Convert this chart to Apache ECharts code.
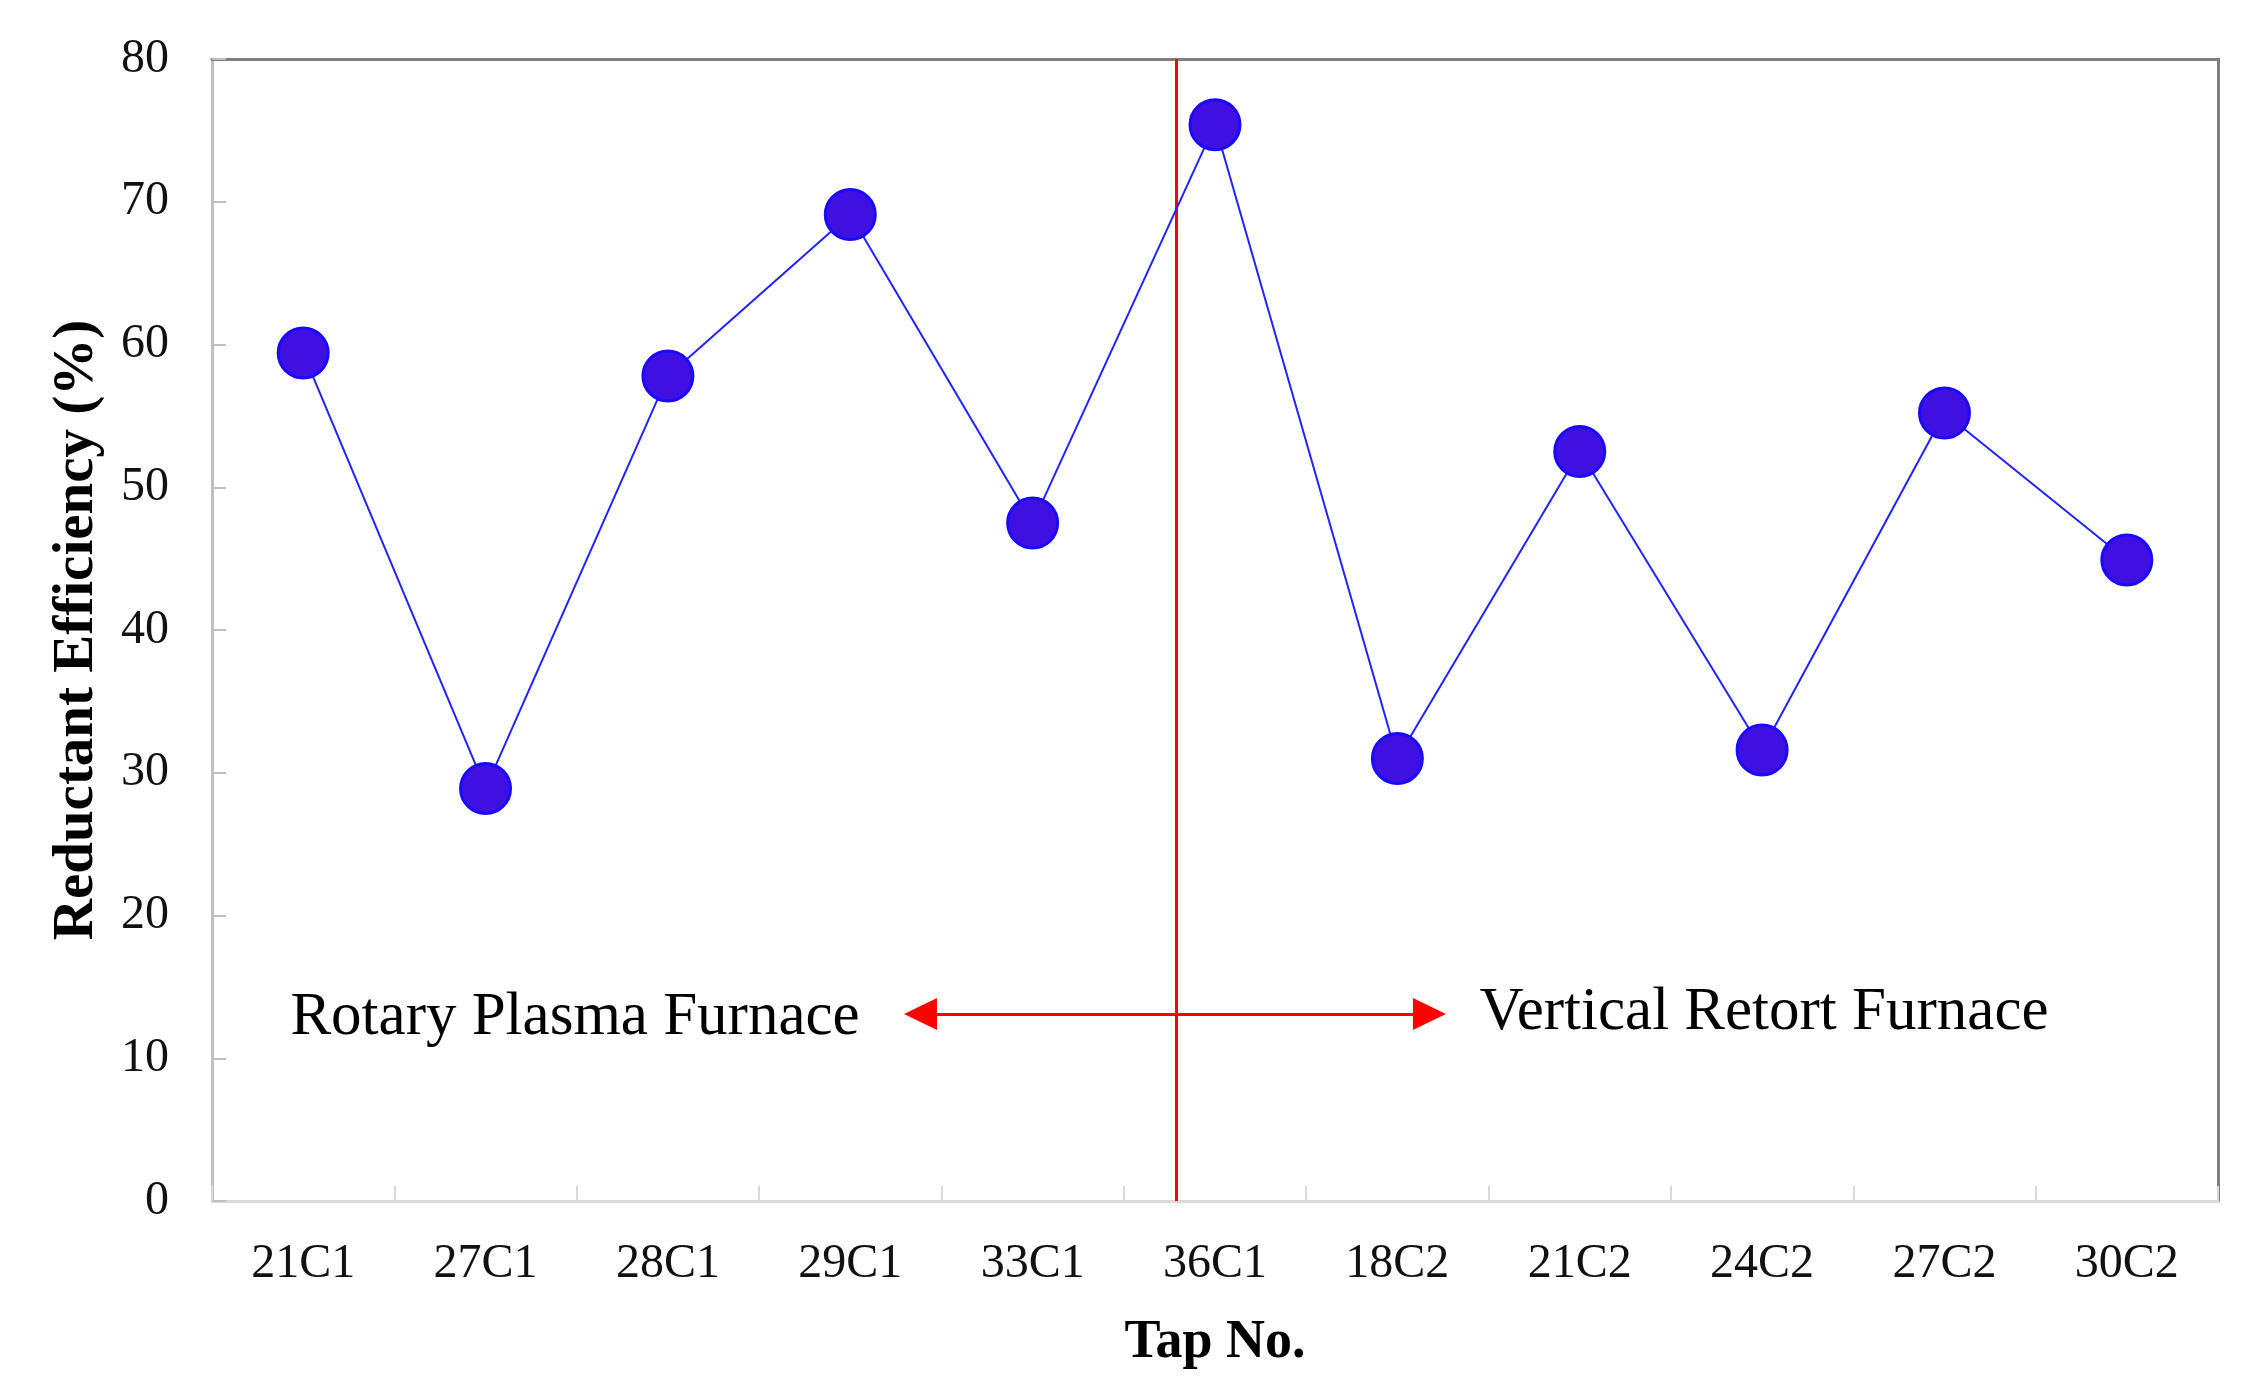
<!DOCTYPE html>
<html>
<head>
<meta charset="utf-8">
<script src="https://cdn.jsdelivr.net/npm/echarts@6/dist/echarts.min.js"></script>
<style>
    html, body { margin: 0; padding: 0; background: #ffffff; }
    #main { width: 2248px; height: 1397px; }
</style>
</head>
<body>
<div id="main"></div>
<script>
// data
const tapNos = ['21C1', '27C1', '28C1', '29C1', '33C1', '36C1', '18C2', '21C2', '24C2', '27C2', '30C2'];
const efficiency = [59.4, 28.9, 57.8, 69.1, 47.5, 75.4, 31.0, 52.5, 31.6, 55.2, 44.9];
const yMin = 0;
const yMax = 80;
const yStep = 10;

// furnace split and annotation (in category units: 0 = left edge, 11 = right edge)
const splitAt = 5.286;
const arrowFrom = 3.885;
const arrowTo = 6.676;
const arrowLevel = 13.1;
const furnaceNotes = [
    { name: 'Rotary Plasma Furnace', value: [0.43, 12.8] },
    { name: 'Vertical Retort Furnace', value: [6.95, 13.15] }
];

const serif = 'Liberation Serif, Times New Roman, serif';
let myChart = echarts.init(document.getElementById('main'));

let option = {
    backgroundColor: '#ffffff',
    animation: false,
    grid: {
        left: 212,
        right: 30,
        top: 59,
        bottom: 196,
        containLabel: false
    },
    xAxis: [
        {
            type: 'category',
            data: tapNos,
            boundaryGap: true,
            name: 'Tap No.',
            nameLocation: 'middle',
            nameGap: 115,
            nameTextStyle: {
                fontFamily: serif,
                fontSize: 54,
                fontWeight: 'bold',
                color: '#000000'
            },
            axisLine: { show: true, lineStyle: { color: '#d9d9d9', width: 3 } },
            axisTick: { show: true, inside: true, length: 15, lineStyle: { color: '#d9d9d9', width: 2 } },
            axisLabel: {
                margin: 39,
                fontFamily: serif,
                fontSize: 48,
                color: '#111111',
                interval: 0
            },
            splitLine: { show: false }
        },
        {
            // hidden helper axis for the divider/arrow, also draws the top frame
            type: 'value',
            position: 'top',
            min: 0,
            max: 11,
            axisLine: { show: true, onZero: false, lineStyle: { color: '#808080', width: 3 } },
            axisTick: { show: false },
            axisLabel: { show: false },
            splitLine: { show: false }
        }
    ],
    yAxis: [
        {
            type: 'value',
            min: yMin,
            max: yMax,
            interval: yStep,
            name: 'Reductant Efficiency (%)',
            nameLocation: 'middle',
            nameGap: 106,
            nameTextStyle: {
                fontFamily: serif,
                fontSize: 57,
                fontWeight: 'bold',
                color: '#000000'
            },
            axisLine: { show: true, lineStyle: { color: '#bfbfbf', width: 3 } },
            axisTick: { show: true, inside: true, length: 14, lineStyle: { color: '#bfbfbf', width: 2 } },
            axisLabel: {
                margin: 43,
                fontFamily: serif,
                fontSize: 48,
                color: '#111111'
            },
            splitLine: { show: false }
        },
        {
            // right frame
            type: 'value',
            position: 'right',
            min: yMin,
            max: yMax,
            axisLine: { show: true, lineStyle: { color: '#808080', width: 3 } },
            axisTick: { show: false },
            axisLabel: { show: false },
            splitLine: { show: false }
        }
    ],
    series: [
        {
            name: 'divider',
            type: 'line',
            xAxisIndex: 1,
            yAxisIndex: 0,
            data: [],
            silent: true,
            z: 1,
            markLine: {
                silent: true,
                symbol: ['none', 'none'],
                label: { show: false },
                lineStyle: { color: '#ff0000', width: 3, type: 'solid' },
                data: [
                    [{ coord: [splitAt, yMin] }, { coord: [splitAt, yMax] }]
                ]
            }
        },
        {
            name: 'arrow',
            type: 'line',
            xAxisIndex: 1,
            yAxisIndex: 0,
            data: [],
            silent: true,
            z: 1,
            markLine: {
                silent: true,
                symbol: ['triangle', 'triangle'],
                symbolSize: [32, 33],
                label: { show: false },
                lineStyle: { color: '#ff0000', width: 3, type: 'solid' },
                data: [
                    [{ coord: [arrowFrom, arrowLevel] }, { coord: [arrowTo, arrowLevel] }]
                ]
            }
        },
        {
            name: 'notes',
            type: 'scatter',
            xAxisIndex: 1,
            yAxisIndex: 0,
            symbolSize: 0,
            silent: true,
            label: {
                show: true,
                position: 'right',
                distance: 0,
                formatter: '{b}',
                fontFamily: serif,
                fontSize: 61,
                color: '#000000',
                textBorderWidth: 0,
                opacity: 1
            },
            data: furnaceNotes
        },
        {
            name: 'Reductant Efficiency',
            type: 'line',
            xAxisIndex: 0,
            yAxisIndex: 0,
            data: efficiency,
            symbol: 'circle',
            symbolSize: 50,
            z: 5,
            lineStyle: { color: '#2323ff', width: 2 },
            itemStyle: {
                color: '#4010e2',
                borderColor: '#1a0aff',
                borderWidth: 3
            },
            label: { show: false }
        }
    ]
};

myChart.setOption(option);
</script>
</body>
</html>
